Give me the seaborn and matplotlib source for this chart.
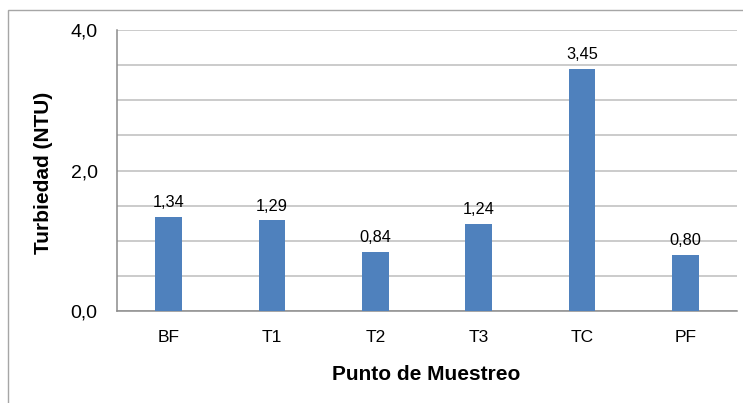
import matplotlib
matplotlib.use("Agg")
import matplotlib.pyplot as plt
import seaborn as sns
import pandas as pd
from matplotlib.patches import Rectangle
from matplotlib.ticker import MultipleLocator

categories = ["BF", "T1", "T2", "T3", "TC", "PF"]
turbidity = [1.34, 1.29, 0.84, 1.24, 3.45, 0.80]
y_major_ticks = [0.0, 2.0, 4.0]
y_tick_labels = ["0,0", "2,0", "4,0"]

sns.set_style("white")
plt.rcParams["font.family"] = ["Liberation Sans", "DejaVu Sans"]

W, H = 743, 403
fig = plt.figure(figsize=(W / 100, H / 100), dpi=100)

# chart-area border (cut off at right/bottom as in the reference)
fig.patches.append(Rectangle((8 / W, -0.1), 1.2, (H - 10) / H + 0.1,
                             transform=fig.transFigure, fill=False,
                             edgecolor="#a6a6a6", linewidth=1.0))

left, right, top, bottom = 117, 737, 30, 311
ax = fig.add_axes([left / W, (H - bottom) / H, (right - left) / W, (bottom - top) / H])

df = pd.DataFrame({"cat": categories, "val": turbidity})
sns.barplot(data=df, x="cat", y="val", ax=ax, color="#4F81BD", width=0.26,
            saturation=1, linewidth=0, zorder=3)

ax.set_ylim(0, 4.0)
ax.set_xlim(-0.5, len(categories) - 0.5)
ax.set_yticks(y_major_ticks)
ax.set_yticklabels(y_tick_labels)
ax.yaxis.set_minor_locator(MultipleLocator(0.5))
ax.grid(True, which="both", axis="y", color="#bdbdbd", linewidth=1.1, zorder=0)
ax.set_axisbelow(True)

for s in ["top", "right"]:
    ax.spines[s].set_visible(False)
for s in ["left", "bottom"]:
    ax.spines[s].set_color("#8c8c8c")
    ax.spines[s].set_linewidth(1.1)

ax.tick_params(axis="y", which="major", length=5, width=1.1, color="#8c8c8c",
               labelsize=14, pad=9, labelcolor="black")
ax.tick_params(axis="y", which="minor", length=0)
ax.tick_params(axis="x", length=0, labelsize=12.5, pad=14, labelcolor="black")

for i, v in enumerate(turbidity):
    ax.annotate(f"{v:.2f}".replace(".", ","), (i, v), xytext=(0, 7),
                textcoords="offset points", ha="center", va="baseline",
                fontsize=11.8, color="black")

ax.set_xlabel("Punto de Muestreo", fontsize=15, fontweight="bold", color="black")
ax.set_ylabel("Turbiedad (NTU)", fontsize=15, fontweight="bold", color="black")
ax.xaxis.set_label_coords((426.5 - left) / (right - left), (bottom - 374) / (bottom - top))
ax.xaxis.label.set_va("center")
ax.yaxis.set_label_coords((44 - left) / (right - left), (bottom - 172.5) / (bottom - top))
ax.yaxis.label.set_va("center")

fig.savefig("out.png", dpi=100)
